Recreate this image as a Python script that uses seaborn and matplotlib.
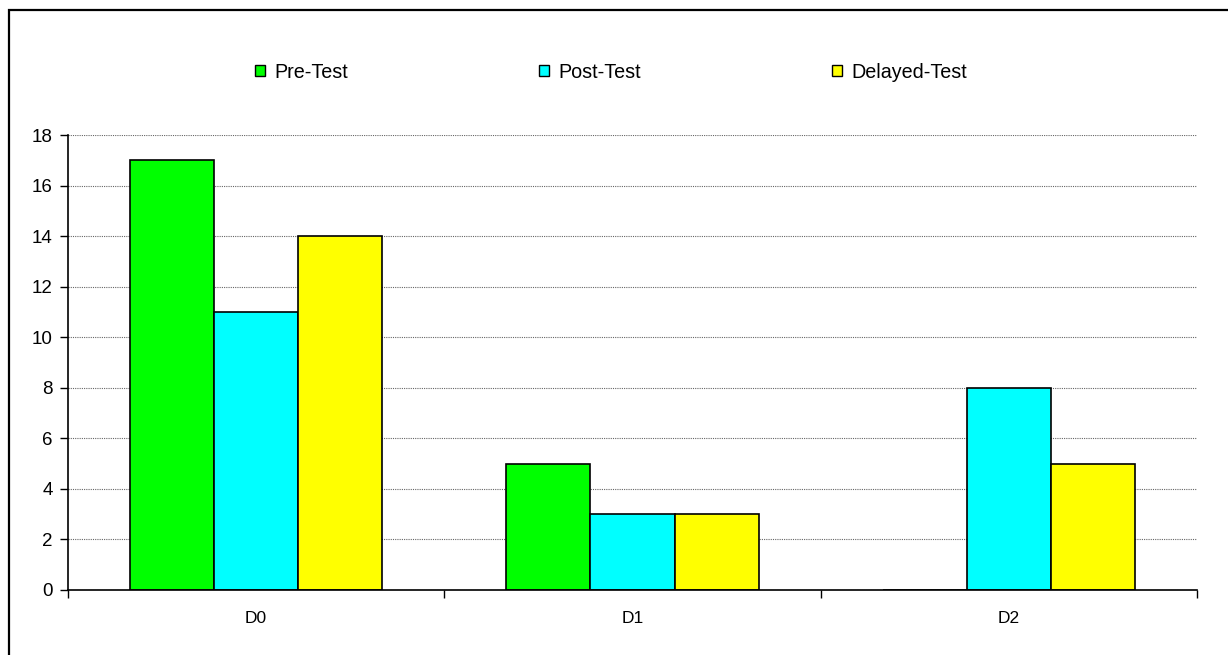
import pandas as pd
import numpy as np
import matplotlib
matplotlib.use('Agg')
import matplotlib.pyplot as plt
from matplotlib.patches import Rectangle, Patch
import seaborn as sb

groups = ['D0', 'D1', 'D2']
pre_test = [17, 5, 0]
post_test = [11, 3, 8]
delayed_test = [14, 3, 5]
series = ['Pre-Test', 'Post-Test', 'Delayed-Test']
colors = ['#00FF00', '#00FFFF', '#FFFF00']

df = pd.DataFrame({'group': groups, 'Pre-Test': pre_test,
                   'Post-Test': post_test, 'Delayed-Test': delayed_test})
df = df.melt(id_vars='group', var_name='test', value_name='score')

sb.set_style('white')
plt.rcParams['font.family'] = ['Liberation Sans', 'DejaVu Sans']
plt.rcParams['text.color'] = 'black'
plt.rcParams['xtick.color'] = 'black'
plt.rcParams['ytick.color'] = 'black'

fig = plt.figure(figsize=(12.28, 6.55), dpi=100)
ax = fig.add_axes([68 / 1228, 65 / 655, 1129 / 1228, 455 / 655])

sb.barplot(data=df, x='group', y='score', hue='test', hue_order=series,
           palette=colors, width=0.67, gap=0, edgecolor='black', linewidth=1.2,
           saturation=1, ax=ax, legend=False)

ax.set_ylim(0, 18)
ax.set_xlim(-0.5, 2.5)
ax.set_yticks(np.arange(0, 19, 2))
ax.set_xticks(range(len(groups)))
ax.set_xticklabels(groups)
ax.set_xticks([-0.5, 0.5, 1.5, 2.5], minor=True)
ax.tick_params(axis='x', which='major', bottom=True, length=0, pad=15, labelsize=12.5)
ax.tick_params(axis='x', which='minor', bottom=True, length=6, width=1, color='black', direction='out')
ax.tick_params(axis='y', left=True, length=6, width=1, color='black', direction='out', labelsize=13.5, pad=5)
ax.set_xlabel('')
ax.set_ylabel('')
ax.yaxis.grid(True, linestyle=(0, (1, 1)), color='#666666', linewidth=0.8)
ax.set_axisbelow(True)
for s in ['top', 'right']:
    ax.spines[s].set_visible(False)
for s in ['left', 'bottom']:
    ax.spines[s].set_color('black')
    ax.spines[s].set_linewidth(1.2)

handles = [Patch(facecolor=c, edgecolor='black', linewidth=1) for c in colors]
fig.legend(handles, series, loc='center', bbox_to_anchor=(611 / 1228, 1 - 72 / 655),
           ncol=3, frameon=False, fontsize=14.2, handlelength=0.51, handleheight=0.51,
           handletextpad=0.46, columnspacing=9.7, borderpad=0, borderaxespad=0)

fig.patches.append(Rectangle((9 / 1228, -0.1), 1.2, 1 - 10 / 655 + 0.1,
                             transform=fig.transFigure, fill=False,
                             edgecolor='black', linewidth=1.6))

plt.savefig('out.png', dpi=100)
